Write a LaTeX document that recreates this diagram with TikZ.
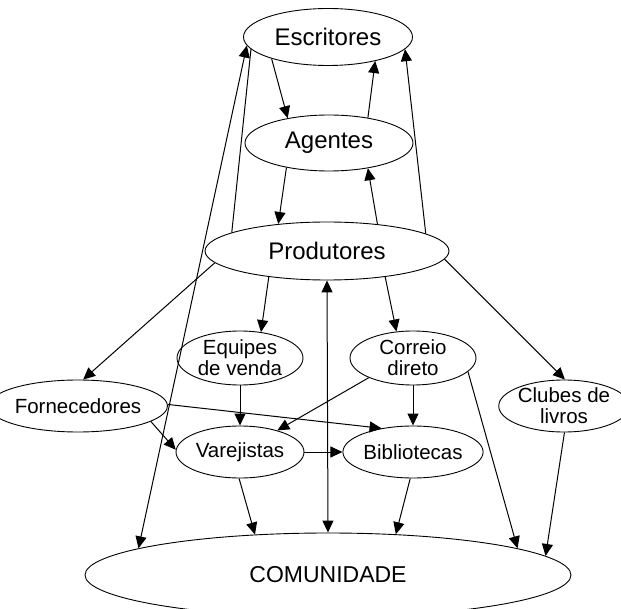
\documentclass[tikz,border=0pt]{standalone}
\usepackage{fontspec}
\setmainfont{Liberation Sans}
\usetikzlibrary{shapes.geometric,arrows.meta}
\tikzset{
  el/.style={draw, ellipse, line width=0.9pt, inner sep=0pt},
  big/.style={font=\fontsize{24}{25}\selectfont},
  small/.style={font=\fontsize{20.5}{21}\selectfont, align=center},
  tip/.style={},
  conn/.style={line width=1pt, -{Triangle[length=12pt,width=11pt]}},
  bconn/.style={line width=1pt, {Triangle[length=12pt,width=11pt]}-{Triangle[length=12pt,width=11pt]}},
  plain/.style={line width=1pt}
}
\begin{document}
\begin{tikzpicture}[x=1pt,y=-1pt]
\useasboundingbox (0,0) rectangle (621,609);
\clip (0,0) rectangle (621,609);
\node[el,big,minimum width=169pt,minimum height=57pt] (esc) at (328,37) {Escritores};
\node[el,big,minimum width=168pt,minimum height=56pt] (age) at (329,143) {Agentes};
\node[el,big,minimum width=244pt,minimum height=58pt] (pro) at (327,251) {Produtores};
\node[el,small,minimum width=126pt,minimum height=54pt] (equ) at (240,358) {Equipes\\de venda};
\node[el,small,minimum width=126pt,minimum height=54pt] (cor) at (413,358) {Correio\\direto};
\node[el,small,minimum width=139pt,minimum height=52pt] (for) at (78,406) {Fornecedores};
\node[el,small,minimum width=116pt,minimum height=52pt] (clu) at (564,406) {Clubes de\\livros};
\node[el,small,minimum width=128pt,minimum height=52pt] (var) at (240,452) {Varejistas};
\node[el,small,minimum width=126pt,minimum height=52pt] (bib) at (413,452) {Bibliotecas};
\node[el,font=\fontsize{23}{24}\selectfont,minimum width=486pt,minimum height=84pt] (com) at (328,575) {COMUNIDADE};

\draw[conn] (esc.201) -- (age.149);
\draw[conn] (age.33) -- (esc.333);
\draw[conn] (age.210) -- (pro.151);
\draw[conn] (pro.28) -- (age.327);
\draw[conn] (pro.10) -- (esc.351);
\draw[plain] (pro.169) -- (esc.189);
\draw[bconn] (com.172.4) -- (esc.186);
\draw[conn] (pro.186) -- (for.79);
\draw[conn] (pro.204.5) -- (equ.51);
\draw[bconn] (com.north) -- (pro.south);
\draw[conn] (pro.336.6) -- (cor.122.6);
\draw[conn] (pro.356.6) -- (clu.88);
\draw[conn] (equ.south) -- (var.north);
\draw[conn] (cor.204.4) -- (var.30);
\draw[conn] (cor.south) -- (bib.north);
\draw[conn] (cor.346) -- (com.8);
\draw[conn] (for.1.7) -- (bib.143.7);
\draw[conn] (for.348) -- (var.178);
\draw[conn] (var.east) -- (bib.west);
\draw[conn] (var.268) -- (com.151.6);
\draw[conn] (bib.264) -- (com.31);
\draw[conn] (clu.271) -- (com.5.8);
\end{tikzpicture}
\end{document}
